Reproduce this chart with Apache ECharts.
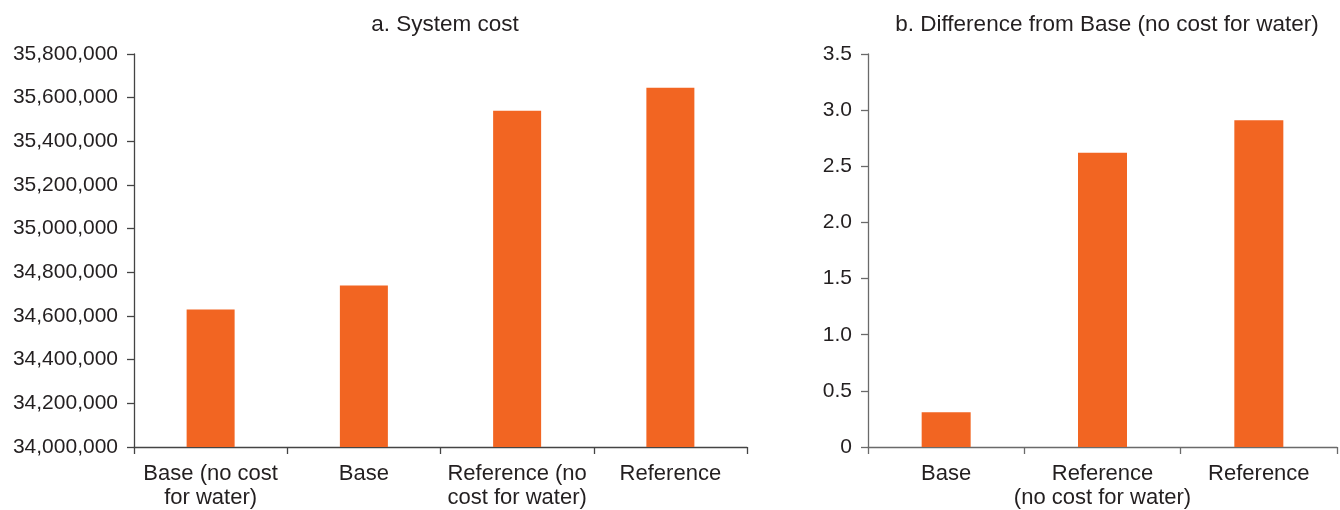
<!DOCTYPE html>
<html>
<head>
<meta charset="utf-8">
<script src="https://cdn.jsdelivr.net/npm/echarts@6/dist/echarts.min.js"></script>
<style>
  html, body { margin: 0; padding: 0; background: #fff; }
  #chart { width: 1340px; height: 510px; }
</style>
</head>
<body>
<div id="chart"></div>
<script>
// ---- Data ----
const titleA = 'a. System cost';
const titleB = 'b. Difference from Base (no cost for water)';
const categoriesA = ['Base (no cost\nfor water)', 'Base', 'Reference (no\ncost for water)', 'Reference'];
const systemCost = [34630000, 34740000, 35540000, 35645000];
const categoriesB = ['Base', 'Reference\n(no cost for water)', 'Reference'];
const diffFromBase = [0.31, 2.62, 2.91];

const BAR = '#F26522';
const TXT = '#231f20';
const FONT = '"Liberation Sans", Arial, Helvetica, sans-serif';

const chart = echarts.init(document.getElementById('chart'), null, { renderer: 'canvas' });

function xAxisCfg(idx, cats, lineColor) {
  return {
    type: 'category', gridIndex: idx, data: cats,
    axisLine: { show: true, lineStyle: { color: lineColor, width: 1.3 } },
    axisTick: { show: true, length: 7, alignWithLabel: false, lineStyle: { color: lineColor, width: 1.3 } },
    axisLabel: { color: TXT, fontFamily: FONT, fontSize: 22, lineHeight: 24, margin: 15, interval: 0 }
  };
}
function yAxisCfg(idx, min, max, interval, fmt, lineColor) {
  return {
    type: 'value', gridIndex: idx, min: min, max: max, interval: interval,
    axisLine: { show: true, lineStyle: { color: lineColor, width: 1.3 } },
    axisTick: { show: true, length: 7, lineStyle: { color: lineColor, width: 1.3 } },
    splitLine: { show: false },
    axisLabel: { color: TXT, fontFamily: FONT, fontSize: 21, margin: 16, formatter: fmt }
  };
}

chart.setOption({
  animation: false,
  backgroundColor: '#ffffff',
  title: [
    { text: titleA, left: 440, textAlign: 'center', top: 8,
      textStyle: { color: TXT, fontFamily: FONT, fontSize: 22.5, fontWeight: 'normal' } },
    { text: titleB, left: 1102, textAlign: 'center', top: 8,
      textStyle: { color: TXT, fontFamily: FONT, fontSize: 22.5, fontWeight: 'normal' } }
  ],
  grid: [
    { left: 134, right: 593, top: 54, bottom: 62, containLabel: false },
    { left: 868, right: 3, top: 54, bottom: 62, containLabel: false }
  ],
  xAxis: [
    xAxisCfg(0, categoriesA, '#444444'),
    xAxisCfg(1, categoriesB, '#6a6a6a')
  ],
  yAxis: [
    yAxisCfg(0, 34000000, 35800000, 200000, v => v.toLocaleString('en-US'), '#444444'),
    yAxisCfg(1, 0, 3.5, 0.5, v => (v === 0 ? '0' : v.toFixed(1)), '#6a6a6a')
  ],
  series: [
    { type: 'bar', xAxisIndex: 0, yAxisIndex: 0, data: systemCost, barWidth: 48,
      itemStyle: { color: BAR } },
    { type: 'bar', xAxisIndex: 1, yAxisIndex: 1, data: diffFromBase, barWidth: 49,
      itemStyle: { color: BAR } }
  ]
});
</script>
</body>
</html>
